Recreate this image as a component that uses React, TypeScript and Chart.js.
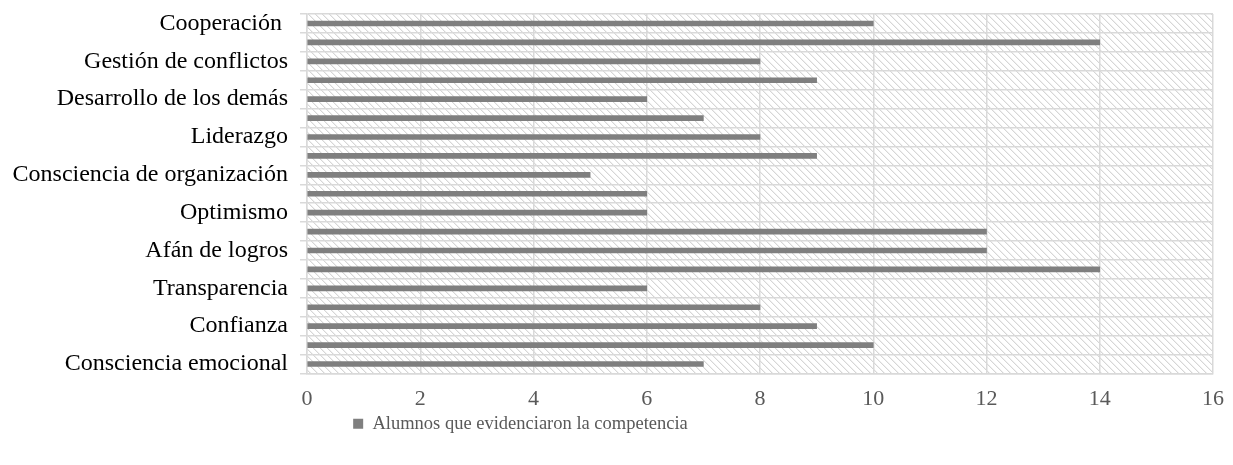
import React, { useEffect, useRef } from "react";
import { Chart, registerables } from "chart.js";

Chart.register(...registerables);

const categories = [
  "Cooperación ",
  "",
  "Gestión de conflictos",
  "",
  "Desarrollo de los demás",
  "",
  "Liderazgo",
  "",
  "Consciencia de organización",
  "",
  "Optimismo",
  "",
  "Afán de logros",
  "",
  "Transparencia",
  "",
  "Confianza",
  "",
  "Consciencia emocional",
];

const values = [10, 14, 8, 9, 6, 7, 8, 9, 5, 6, 6, 12, 12, 14, 6, 8, 9, 10, 7];

const seriesName = "Alumnos que evidenciaron la competencia";
const xMin = 0;
const xMax = 16;
const xStep = 2;

const FONT = "'Liberation Serif', 'Times New Roman', serif";

function makePattern(ctx: CanvasRenderingContext2D) {
  const c = document.createElement("canvas");
  const n = 7;
  c.width = n;
  c.height = n;
  const p = c.getContext("2d")!;
  p.fillStyle = "#ffffff";
  p.fillRect(0, 0, n, n);
  p.fillStyle = "#d6d6d6";
  for (let i = 0; i < n; i++) {
    p.fillRect(i, i, 1, 1);
  }
  p.fillStyle = "#f0f0f0";
  for (let i = 0; i < n; i++) {
    p.fillRect((i + 1) % n, i, 1, 1);
  }
  return ctx.createPattern(c, "repeat");
}

const hatchPlugin = {
  id: "hatchBg",
  afterLayout(chart: any) {
    const lg = chart.legend;
    if (lg) {
      lg.left -= 86;
      lg.right -= 86;
    }
  },
  beforeDraw(chart: any) {
    const { ctx, chartArea } = chart;
    if (!chartArea) return;
    const pat = makePattern(ctx);
    ctx.save();
    ctx.fillStyle = pat || "#f4f4f4";
    ctx.fillRect(
      chartArea.left,
      chartArea.top,
      chartArea.right - chartArea.left,
      chartArea.bottom - chartArea.top
    );
    ctx.restore();
  },
};

export default function App() {
  const ref = useRef<HTMLCanvasElement | null>(null);

  useEffect(() => {
    if (!ref.current) return;
    const chart = new Chart(ref.current, {
      type: "bar",
      data: {
        labels: categories,
        datasets: [
          {
            label: seriesName,
            data: values,
            backgroundColor: "#7f7f7f",
            borderWidth: 0,
            barThickness: 5,
          },
        ],
      },
      options: {
        indexAxis: "y",
        animation: false,
        responsive: false,
        maintainAspectRatio: false,
        layout: { padding: { top: 14, right: 20, left: 0, bottom: 22 } },
        scales: {
          x: {
            min: xMin,
            max: xMax,
            ticks: {
              stepSize: xStep,
              color: "#595959",
              font: { family: FONT, size: 22 },
              padding: 13,
            },
            grid: {
              color: "#d9d9d9",
              lineWidth: 1.5,
              drawTicks: false,
            },
            border: { color: "#d9d9d9", width: 1.5 },
            afterFit(scale: any) {
              scale.height = 36;
              scale.paddingLeft = 0;
              scale.paddingRight = 0;
            },
          },
          y: {
            ticks: {
              autoSkip: false,
              color: "#000000",
              font: { family: FONT, size: 24 },
              padding: 12,
            },
            grid: {
              color: "#d9d9d9",
              lineWidth: 1.5,
              tickLength: 7,
              offset: true,
            },
            border: { color: "#d9d9d9", width: 1.5 },
            afterFit(scale: any) {
              scale.width = 307;
              scale.paddingTop = 0;
              scale.paddingBottom = 0;
            },
          },
        },
        plugins: {
          legend: {
            position: "bottom",
            labels: {
              color: "#595959",
              font: { family: FONT, size: 18.5 },
              boxWidth: 10,
              boxHeight: 10,
              padding: 5,
            },
          },
          tooltip: { enabled: false },
        },
      },
      plugins: [hatchPlugin],
    });
    return () => chart.destroy();
  }, []);

  return (
    <div style={{ position: "absolute", left: 0, top: 0, width: 1233, height: 465, background: "#fff" }}>
      <canvas ref={ref} width={1233} height={465} style={{ width: 1233, height: 465 }} />
    </div>
  );
}
